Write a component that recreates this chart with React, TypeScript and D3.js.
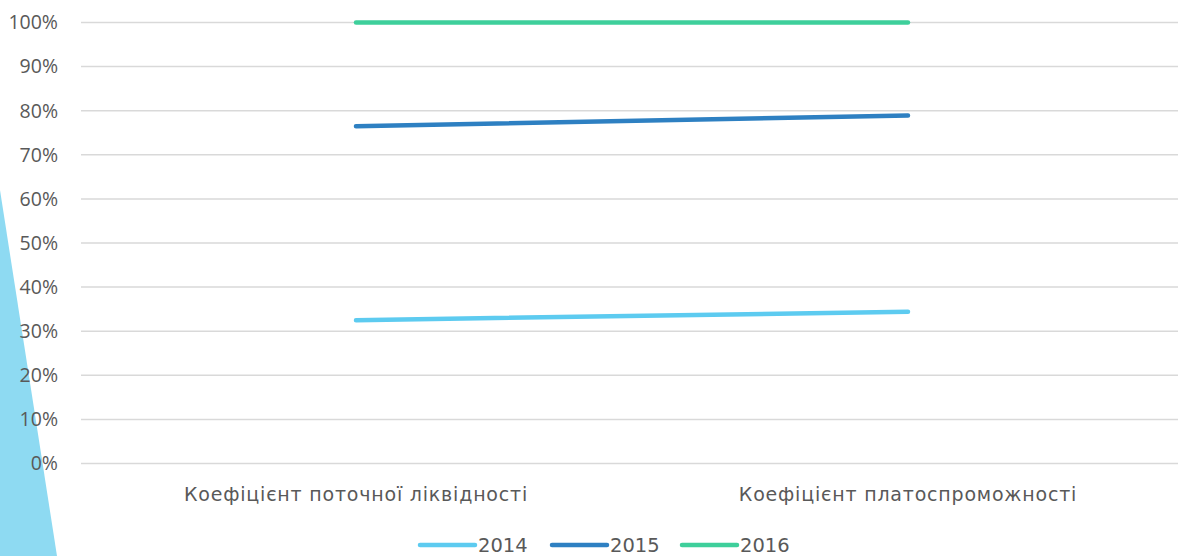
import React from 'react';
import * as d3 from 'd3';

const categories = ['Коефіцієнт поточної ліквідності', 'Коефіцієнт платоспроможності'];
const seriesNames = ['2014', '2015', '2016'];
const values2014 = [0.325, 0.344];
const values2015 = [0.765, 0.789];
const values2016 = [1.0, 1.0];
const seriesValues = [values2014, values2015, values2016];
const seriesColors = ['#5DCBF0', '#2E80C2', '#3ECF9B'];
const yTicks = [0, 0.1, 0.2, 0.3, 0.4, 0.5, 0.6, 0.7, 0.8, 0.9, 1.0];

const W = 1178;
const H = 556;

export default function App() {
  const x = d3.scalePoint<string>().domain(categories).range([356, 908]);
  const y = d3.scaleLinear().domain([0, 1]).range([463.5, 22.5]);
  const line = d3
    .line<number>()
    .x((_, i) => x(categories[i]) as number)
    .y((d) => y(d));
  const fmt = d3.format('.0%');
  const legendX = [420, 552, 682];

  return (
    <svg
      width={W}
      height={H}
      style={{ position: 'absolute', left: 0, top: 0, background: '#fff' }}
    >
      <polygon points={`0,190 57,${H} 0,${H}`} fill="#8EDAF2" />
      {yTicks.map((t) => (
        <g key={t}>
          <line x1={81} x2={W} y1={y(t)} y2={y(t)} stroke="#D9D9D9" strokeWidth={1.5} />
          <text
            x={58}
            y={y(t)}
            dy="0.35em"
            textAnchor="end"
            fontFamily="'Open Sans', sans-serif"
            fontSize={19.5}
            fill="#595959"
          >
            {fmt(t)}
          </text>
        </g>
      ))}
      {categories.map((c) => (
        <text
          key={c}
          x={x(c)}
          y={501}
          textAnchor="middle"
          fontFamily="'DejaVu Sans', sans-serif"
          fontSize={19}
          letterSpacing={0.8}
          fill="#595959"
        >
          {c}
        </text>
      ))}
      {seriesValues.map((vals, i) => (
        <path
          key={seriesNames[i]}
          d={line(vals) || ''}
          fill="none"
          stroke={seriesColors[i]}
          strokeWidth={4.5}
          strokeLinecap="round"
        />
      ))}
      {seriesNames.map((s, i) => (
        <g key={s}>
          <line
            x1={legendX[i]}
            x2={legendX[i] + 55}
            y1={545}
            y2={545}
            stroke={seriesColors[i]}
            strokeWidth={4.5}
            strokeLinecap="round"
          />
          <text
            x={legendX[i] + 58}
            y={545}
            dy="0.36em"
            fontFamily="'DejaVu Sans', sans-serif"
            fontSize={19.5}
            fill="#595959"
          >
            {s}
          </text>
        </g>
      ))}
    </svg>
  );
}
